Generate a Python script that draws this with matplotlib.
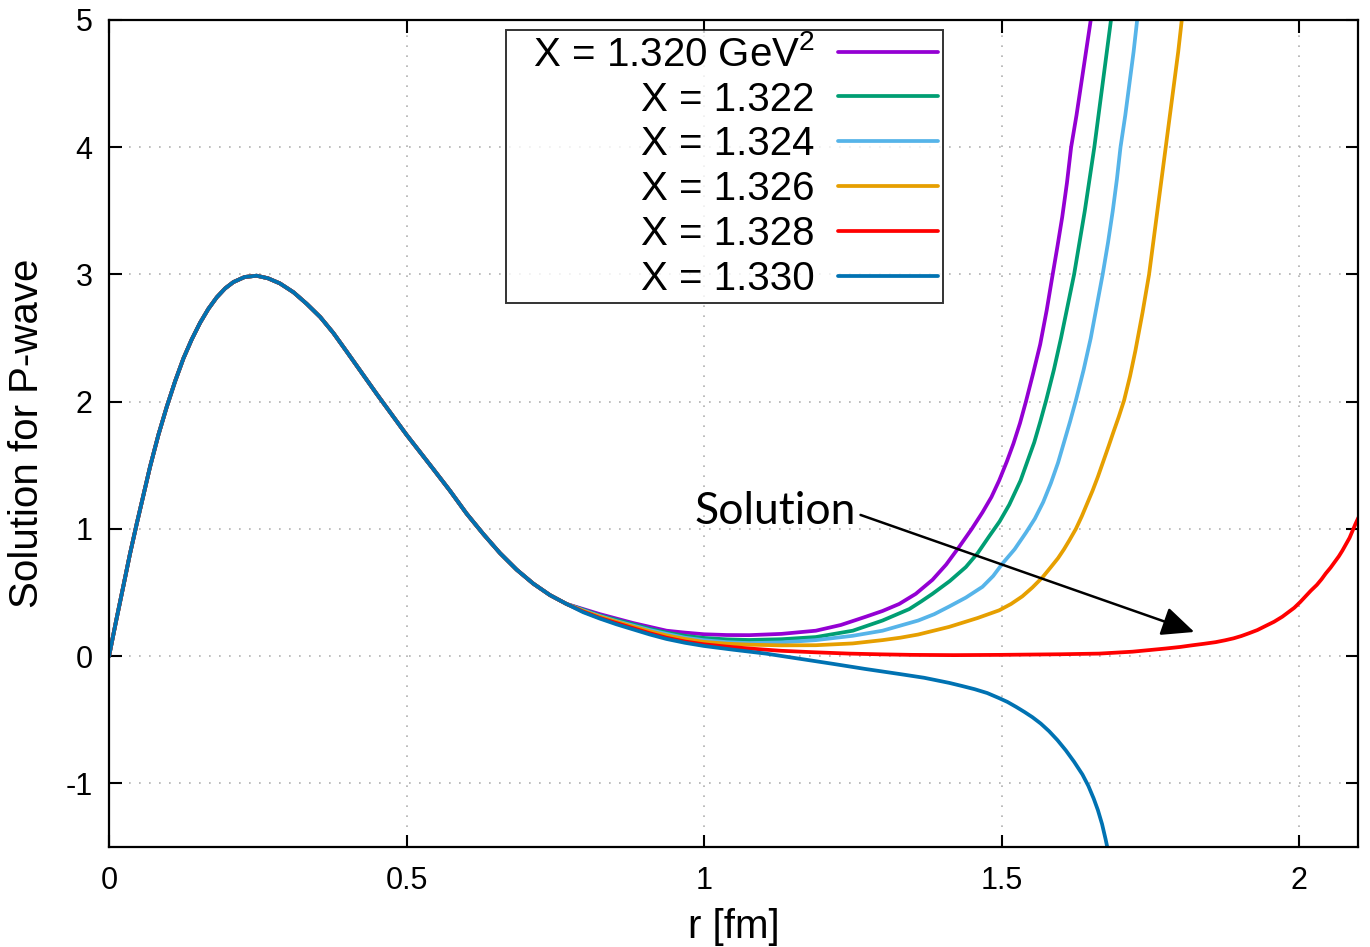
import numpy as np
from matplotlib import pyplot as plt

# shared part of all six solutions (they lie on top of each other up to r ~ 0.77)
r_head = [0.0, 0.012, 0.024, 0.035, 0.0465, 0.058, 0.069, 0.083, 0.097, 0.111,
          0.125, 0.139, 0.153, 0.167, 0.181, 0.195, 0.209, 0.228, 0.248, 0.267,
          0.287, 0.31, 0.332, 0.355, 0.377, 0.40, 0.425, 0.45, 0.475, 0.50,
          0.525, 0.545, 0.573, 0.601, 0.629, 0.657, 0.685, 0.713, 0.741, 0.769]
y_head = [0.0, 0.28, 0.55, 0.80, 1.04, 1.27, 1.49, 1.74, 1.96, 2.16,
          2.34, 2.49, 2.62, 2.73, 2.82, 2.89, 2.94, 2.98, 2.99, 2.97,
          2.93, 2.86, 2.77, 2.665, 2.54, 2.39, 2.225, 2.06, 1.90, 1.74,
          1.59, 1.47, 1.30, 1.12, 0.96, 0.81, 0.68, 0.57, 0.48, 0.41]

# tails
r_1320 = [0.797, 0.825, 0.853, 0.881, 0.909, 0.937, 0.968, 1.0, 1.038, 1.076, 1.13,
          1.188, 1.23, 1.272, 1.30, 1.328, 1.356, 1.384, 1.407, 1.429, 1.45, 1.468,
          1.483, 1.496, 1.509, 1.52, 1.531, 1.541, 1.553, 1.565, 1.576, 1.586, 1.594,
          1.602, 1.610, 1.617, 1.626, 1.634, 1.642, 1.650, 1.656]
y_1320 = [0.37, 0.33, 0.295, 0.26, 0.23, 0.20, 0.185, 0.172, 0.166, 0.165, 0.175,
          0.20, 0.245, 0.31, 0.355, 0.41, 0.49, 0.60, 0.72, 0.86, 1.0, 1.13,
          1.25, 1.38, 1.53, 1.67, 1.83, 2.0, 2.22, 2.45, 2.72, 3.0, 3.22,
          3.45, 3.72, 4.0, 4.25, 4.5, 4.75, 5.0, 5.2]

r_1322 = [0.797, 0.825, 0.853, 0.881, 0.909, 0.937, 0.968, 1.0, 1.038, 1.076, 1.13,
          1.188, 1.25, 1.30, 1.345, 1.365, 1.384, 1.413, 1.44, 1.46, 1.479, 1.497,
          1.513, 1.532, 1.545, 1.555, 1.565, 1.575, 1.588, 1.60, 1.611, 1.622, 1.631,
          1.64, 1.648, 1.656, 1.663, 1.67, 1.677, 1.684, 1.69]
y_1322 = [0.365, 0.32, 0.285, 0.25, 0.215, 0.185, 0.16, 0.143, 0.132, 0.127, 0.133,
          0.15, 0.20, 0.28, 0.37, 0.43, 0.49, 0.59, 0.70, 0.81, 0.94, 1.06,
          1.19, 1.38, 1.55, 1.68, 1.84, 2.01, 2.25, 2.5, 2.75, 3.0, 3.25,
          3.5, 3.75, 4.0, 4.25, 4.5, 4.75, 5.0, 5.2]

r_1324 = [0.797, 0.825, 0.853, 0.881, 0.909, 0.937, 0.968, 1.0, 1.038, 1.076, 1.13,
          1.188, 1.25, 1.30, 1.33, 1.36, 1.387, 1.412, 1.44, 1.468, 1.486, 1.502,
          1.522, 1.541, 1.556, 1.57, 1.583, 1.595, 1.605, 1.615, 1.625, 1.638, 1.65,
          1.66, 1.670, 1.679, 1.687, 1.694, 1.70, 1.708, 1.715, 1.722, 1.728, 1.733]
y_1324 = [0.36, 0.315, 0.275, 0.24, 0.205, 0.175, 0.145, 0.125, 0.11, 0.102, 0.108,
          0.126, 0.16, 0.20, 0.24, 0.28, 0.33, 0.39, 0.46, 0.545, 0.63, 0.73,
          0.84, 0.97, 1.08, 1.21, 1.36, 1.52, 1.68, 1.84, 2.01, 2.25, 2.5,
          2.75, 3.0, 3.25, 3.5, 3.75, 4.0, 4.25, 4.5, 4.75, 5.0, 5.2]

r_1326 = [0.797, 0.825, 0.853, 0.881, 0.909, 0.937, 0.968, 1.0, 1.038, 1.076, 1.13,
          1.188, 1.25, 1.30, 1.33, 1.36, 1.386, 1.412, 1.436, 1.46, 1.478, 1.496,
          1.516, 1.535, 1.552, 1.569, 1.583, 1.595, 1.605, 1.614, 1.625, 1.635, 1.644,
          1.653, 1.662, 1.671, 1.68, 1.688, 1.697, 1.706, 1.716, 1.725, 1.737, 1.748,
          1.755, 1.762, 1.769, 1.776, 1.783, 1.79, 1.797, 1.803, 1.808]
y_1326 = [0.355, 0.31, 0.27, 0.232, 0.195, 0.163, 0.135, 0.112, 0.098, 0.09, 0.085,
          0.086, 0.10, 0.126, 0.145, 0.17, 0.20, 0.23, 0.265, 0.30, 0.33, 0.36,
          0.41, 0.47, 0.54, 0.62, 0.70, 0.77, 0.84, 0.91, 1.0, 1.10, 1.20,
          1.30, 1.41, 1.53, 1.65, 1.76, 1.88, 2.01, 2.2, 2.4, 2.7, 3.0,
          3.25, 3.5, 3.75, 4.0, 4.25, 4.5, 4.75, 5.0, 5.2]

r_1328 = [0.797, 0.825, 0.853, 0.881, 0.909, 0.937, 0.968, 1.0, 1.038, 1.076, 1.13,
          1.188, 1.244, 1.30, 1.35, 1.42, 1.496, 1.60, 1.664, 1.72, 1.776, 1.80,
          1.82, 1.84, 1.86, 1.876, 1.89, 1.903, 1.916, 1.93, 1.945, 1.958, 1.972,
          1.982, 1.992, 2.002, 2.011, 2.02, 2.03, 2.038, 2.045, 2.053, 2.06, 2.067,
          2.073, 2.079, 2.085, 2.09, 2.095, 2.10]
y_1328 = [0.35, 0.30, 0.26, 0.22, 0.18, 0.145, 0.115, 0.093, 0.075, 0.06, 0.042,
          0.03, 0.02, 0.014, 0.01, 0.008, 0.01, 0.015, 0.02, 0.035, 0.06, 0.072,
          0.085, 0.097, 0.11, 0.125, 0.14, 0.158, 0.18, 0.205, 0.24, 0.27, 0.31,
          0.345, 0.38, 0.425, 0.47, 0.515, 0.56, 0.605, 0.65, 0.695, 0.74, 0.785,
          0.83, 0.88, 0.93, 0.985, 1.04, 1.09]

r_1330 = [0.797, 0.825, 0.853, 0.881, 0.909, 0.937, 0.968, 1.0, 1.05, 1.104, 1.16,
          1.216, 1.27, 1.328, 1.37, 1.412, 1.434, 1.455, 1.476, 1.496, 1.51, 1.525,
          1.539, 1.552, 1.566, 1.58, 1.594, 1.608, 1.622, 1.636, 1.646, 1.655, 1.662,
          1.669, 1.675, 1.68]
y_1330 = [0.345, 0.295, 0.25, 0.21, 0.17, 0.135, 0.105, 0.08, 0.05, 0.02, -0.02,
          -0.06, -0.10, -0.14, -0.17, -0.21, -0.235, -0.26, -0.29, -0.33, -0.36, -0.40,
          -0.44, -0.48, -0.53, -0.59, -0.66, -0.74, -0.83, -0.93, -1.02, -1.12, -1.21,
          -1.32, -1.44, -1.55]

labels = ['  X = 1.320 GeV$^2$', 'X = 1.322', 'X = 1.324',
          'X = 1.326', 'X = 1.328', 'X = 1.330']
tails = [(r_1320, y_1320), (r_1322, y_1322), (r_1324, y_1324),
         (r_1326, y_1326), (r_1328, y_1328), (r_1330, y_1330)]

xticks = [0, 0.5, 1, 1.5, 2]
xticklabels = ['0', '0.5', '1', '1.5', '2']
yticks = [-1, 0, 1, 2, 3, 4, 5]
yticklabels = ['-1', '0', '1', '2', '3', '4', '5']

# gnuplot-ish colours
colors = ['#9400d3', '#009e73', '#56b4e9', '#e69f00', '#ff0000', '#0072b2']

plt.rcParams['font.family'] = 'Liberation Sans'
plt.rcParams['mathtext.fontset'] = 'custom'
plt.rcParams['mathtext.rm'] = 'Liberation Sans'

fig = plt.figure(figsize=(13.7, 9.47), dpi=100)
ax = fig.add_axes([0.0796, 0.1056, 0.912, 0.8733])

for (rt, yt), lab, c in zip(tails, labels, colors):
    r = np.concatenate([r_head, rt])
    y = np.concatenate([y_head, yt])
    ax.plot(r, y, color=c, lw=2.7, label=lab, solid_capstyle='round',
            solid_joinstyle='round')

ax.set_xlim(0, 2.1)
ax.set_ylim(-1.5, 5)
ax.set_xticks(xticks)
ax.set_xticklabels(xticklabels)
ax.set_yticks(yticks)
ax.set_yticklabels(yticklabels)
ax.tick_params(direction='in', length=9, width=1.5, top=True, right=True,
               labelsize=22, pad=14)
ax.tick_params(axis='y', pad=12)
for s in ax.spines.values():
    s.set_linewidth(1.6)
ax.grid(True, color='#b0b0b0', linestyle=(0, (1, 5)), linewidth=1.2)
ax.set_axisbelow(True)

ax.set_xlabel('r [fm]', fontsize=29, labelpad=8)
ax.set_ylabel('Solution for P-wave', fontsize=29, labelpad=14)

leg = ax.legend(loc='upper left', bbox_to_anchor=(0.3176, 0.988), markerfirst=False,
                fontsize=29, frameon=True, fancybox=False, edgecolor='black',
                handlelength=2.48, handletextpad=0.57, labelspacing=0.17,
                borderpad=0.12, borderaxespad=0)
leg.get_frame().set_linewidth(1.4)

ax.text(1.255, 1.14, 'Solution', ha='right', va='center', fontsize=32, family='Lato')
ax.annotate('', xy=(1.824, 0.19), xytext=(1.263, 1.11),
            arrowprops=dict(arrowstyle='-|>,head_length=1.0,head_width=0.45',
                            mutation_scale=20, color='black', lw=1.8,
                            shrinkA=0, shrinkB=0))

fig.savefig('out.png', dpi=100)
